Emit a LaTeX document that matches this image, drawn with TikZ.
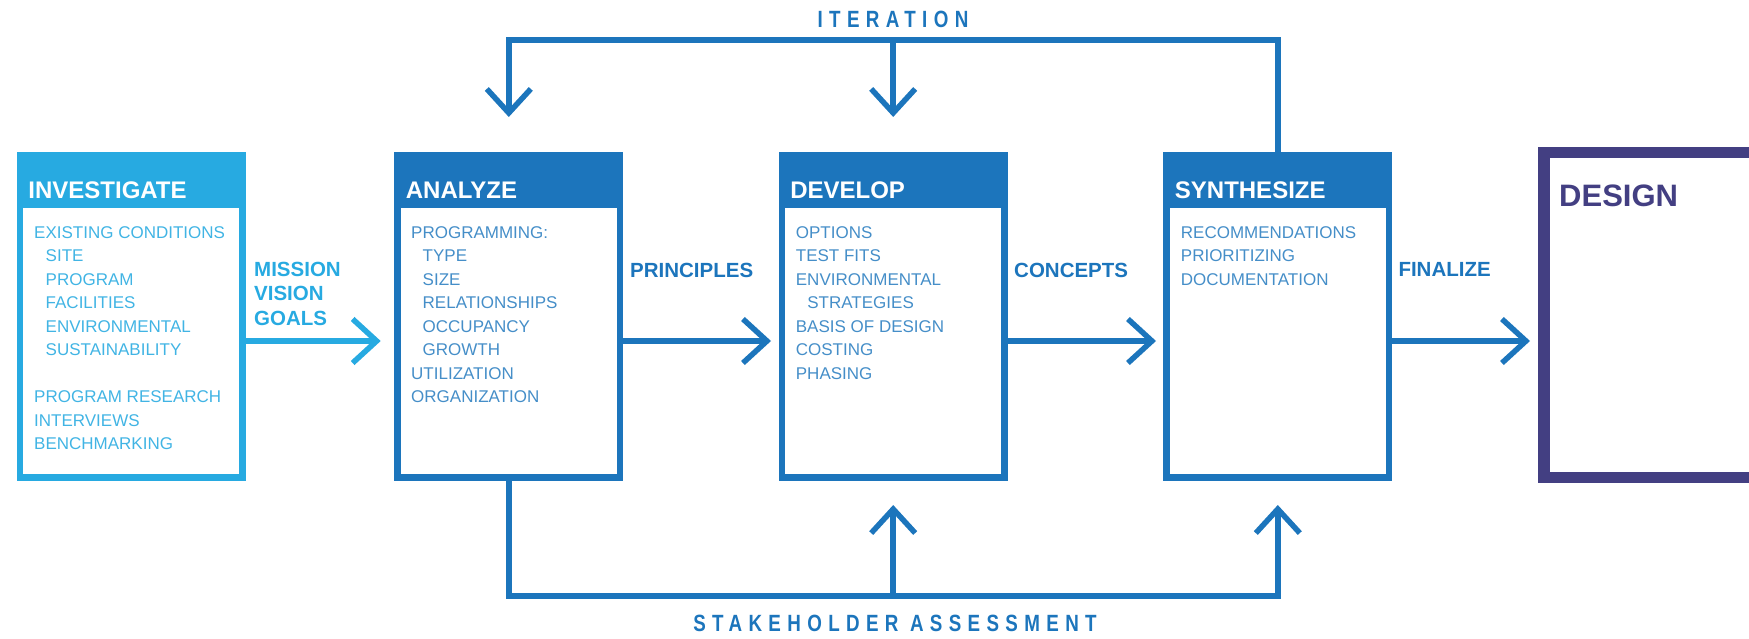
\documentclass[tikz,border=0pt]{standalone}
\usepackage{fontspec}
\setmainfont{Liberation Sans}
\newfontfamily\condfont[FakeStretch=0.8,LetterSpace=27]{Liberation Sans}
\usetikzlibrary{arrows.meta}
\definecolor{lblue}{HTML}{27AAE1}
\definecolor{mblue}{HTML}{1C75BC}
\definecolor{dpurple}{HTML}{433F82}
\colorlet{lbluetxt}{lblue!88!white}
\colorlet{mbluetxt}{mblue!82!white}
\tikzset{
  boxframe/.style={draw=#1, line width=6.7pt, minimum width=222.3pt, minimum height=322.3pt, anchor=north west, inner sep=0pt, outer sep=0pt},
  headband/.style={fill=#1, minimum width=229pt, minimum height=56pt, anchor=north west, inner sep=0pt, outer sep=0pt},
  headtxt/.style={text=white, font=\fontsize{24}{24}\selectfont\bfseries, anchor=base west, inner sep=0pt},
  bodytxt/.style={text=#1, font=\fontsize{17}{23.5}\selectfont, align=left, anchor=north west, inner sep=0pt},
  lbl/.style={text=#1, font=\fontsize{20.5}{24.5}\selectfont\bfseries, align=left, inner sep=0pt},
  looptxt/.style={text=mblue, font=\fontsize{23.5}{23.5}\selectfont\condfont\bfseries, anchor=base, inner sep=0pt},
  flow/.style={draw=#1, line width=5.5pt, -{Straight Barb[length=24pt,width=44pt]}},
  plain/.style={draw=#1, line width=5.5pt},
}
\newcommand{\ind}{\hspace*{11.5pt}}
\begin{document}
\begin{tikzpicture}[x=1pt,y=-1pt]
\useasboundingbox (0,0) rectangle (1749,639);
% boxes
\node[boxframe=lblue] (inv) at (20.05,155.35) {};
\node[headband=lblue] (invh) at (16.7,152) {};
\node[headtxt] (invt) at (28.2,198.3) {INVESTIGATE};
\node[bodytxt=lbluetxt] (invb) at (34,226) {EXISTING CONDITIONS\\ \ind SITE\\ \ind PROGRAM\\ \ind FACILITIES\\ \ind ENVIRONMENTAL\\ \ind SUSTAINABILITY\\[23.5pt] PROGRAM RESEARCH\\ INTERVIEWS\\ BENCHMARKING};

\node[boxframe=mblue] (ana) at (397.65,155.35) {};
\node[headband=mblue] (anah) at (394.3,152) {};
\node[headtxt] (anat) at (405.7,198.3) {ANALYZE};
\node[bodytxt=mbluetxt] (anab) at (411,226) {PROGRAMMING:\\ \ind TYPE\\ \ind SIZE\\ \ind RELATIONSHIPS\\ \ind OCCUPANCY\\ \ind GROWTH\\ UTILIZATION\\ ORGANIZATION};

\node[boxframe=mblue] (dev) at (782.05,155.35) {};
\node[headband=mblue] (devh) at (778.7,152) {};
\node[headtxt] (devt) at (790.1,198.3) {DEVELOP};
\node[bodytxt=mbluetxt] (devb) at (795.7,226) {OPTIONS\\ TEST FITS\\ ENVIRONMENTAL\\ \ind STRATEGIES\\ BASIS OF DESIGN\\ COSTING\\ PHASING};

\node[boxframe=mblue] (syn) at (1166.65,155.35) {};
\node[headband=mblue] (synh) at (1163.3,152) {};
\node[headtxt] (synt) at (1174.7,198.3) {SYNTHESIZE};
\node[bodytxt=mbluetxt] (synb) at (1180.7,226) {RECOMMENDATIONS\\ PRIORITIZING\\ DOCUMENTATION};

\node[draw=dpurple, line width=11.7pt, minimum width=260pt, minimum height=324.9pt, anchor=north west, inner sep=0pt, outer sep=0pt] (des) at (1544.15,152.55) {};
\node[text=dpurple, font=\fontsize{31}{31}\selectfont\bfseries, anchor=base west, inner sep=0pt] (dest) at (1559,207) {DESIGN};

% horizontal arrows
\coordinate (t1) at (380.7,341);
\coordinate (t2) at (771,341);
\coordinate (t3) at (1156,341);
\coordinate (t4) at (1530,341);
\draw[flow=lblue] (inv.east |- t1) -- (t1);
\draw[flow=mblue] (ana.east |- t2) -- (t2);
\draw[flow=mblue] (dev.east |- t3) -- (t3);
\draw[flow=mblue] (syn.east |- t4) -- (t4);

% labels
\node[lbl=lblue, anchor=north west] (mvg) at (254,261.7) {MISSION\\ VISION\\ GOALS};
\node[lbl=mblue, anchor=base west] (prin) at (630,277.5) {PRINCIPLES};
\node[lbl=mblue, anchor=base west] (conc) at (1014,277.5) {CONCEPTS};
\node[lbl=mblue, anchor=base west] (fin) at (1398.3,276.7) {FINALIZE};

% iteration loop
\coordinate (ittop) at (0,40);
\coordinate (ittip) at (0,117);
\draw[flow=mblue] (syn.north) |- (ana.north |- ittop) -- (ana.north |- ittip);
\draw[flow=mblue] (dev.north |- ittop) -- (dev.north |- ittip);
\node[looptxt] (itl) at (893,27.3) {ITERATION};

% stakeholder loop
\coordinate (botline) at (0,596);
\coordinate (bottip) at (0,505);
\draw[flow=mblue] (ana.south) |- (syn.south |- botline) -- (syn.south |- bottip);
\draw[flow=mblue] (dev.south |- botline) -- (dev.south |- bottip);
\node[looptxt] (shl) at (895,631.7) {STAKEHOLDER ASSESSMENT};
\end{tikzpicture}
\end{document}
